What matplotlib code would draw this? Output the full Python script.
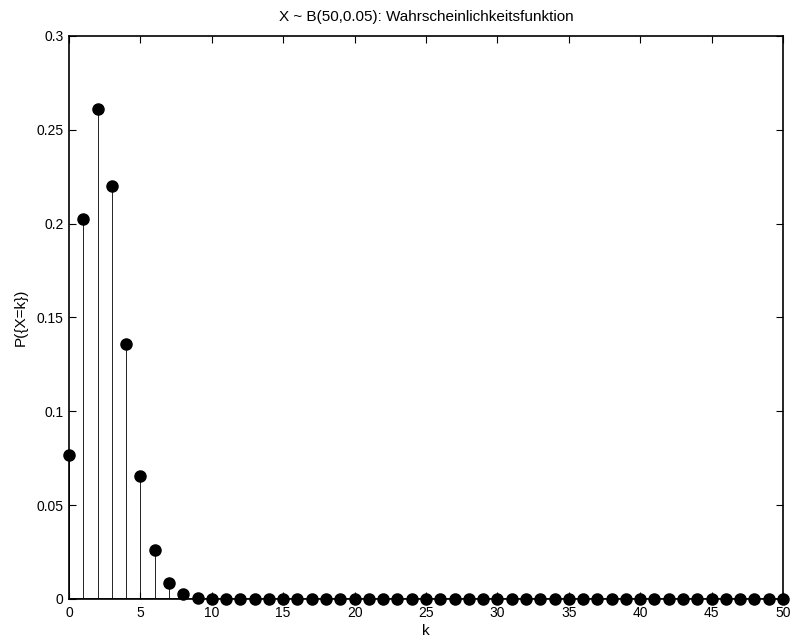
import matplotlib
matplotlib.use("Agg")
import matplotlib.pyplot as plt

plt.rcParams['font.family'] = ['Liberation Sans', 'DejaVu Sans']

k = list(range(51))
pk = [0.0769, 0.2025, 0.2611, 0.2199, 0.1360, 0.0658, 0.0260, 0.0086, 0.0024, 0.0006,
      0.0001] + [0.0] * 40
xticks = [0, 5, 10, 15, 20, 25, 30, 35, 40, 45, 50]
yticks = [0, 0.05, 0.1, 0.15, 0.2, 0.25, 0.3]
ytick_labels = ['0', '0.05', '0.1', '0.15', '0.2', '0.25', '0.3']

fig = plt.figure(figsize=(7.91, 6.39), dpi=100)
ax = fig.add_axes([0.0872, 0.0626, 0.9027, 0.8811])

markerline, stemlines, baseline = ax.stem(k, pk, linefmt='k-', markerfmt='ko', basefmt='k-')
stemlines.set_linewidth(0.6)
markerline.set_markersize(8)
markerline.set_clip_on(False)
baseline.set_linewidth(1.2)
markerline.set_zorder(3)

ax.set_xlim(0, 50)
ax.set_ylim(0, 0.3)
ax.set_xticks(xticks)
ax.set_yticks(yticks)
ax.set_yticklabels(ytick_labels)
ax.tick_params(direction='in', length=5, width=0.8, labelsize=10, top=True, right=True, pad=4)
ax.tick_params(axis='x', pad=5)
for s in ax.spines.values():
    s.set_linewidth(1.2)

ax.set_xlabel('k', fontsize=11, labelpad=3)
ax.set_ylabel('P({X=k})', fontsize=11, labelpad=6)
ax.set_title('X ~ B(50,0.05): Wahrscheinlichkeitsfunktion', fontsize=11, pad=11)

fig.savefig('out.png', dpi=100)
